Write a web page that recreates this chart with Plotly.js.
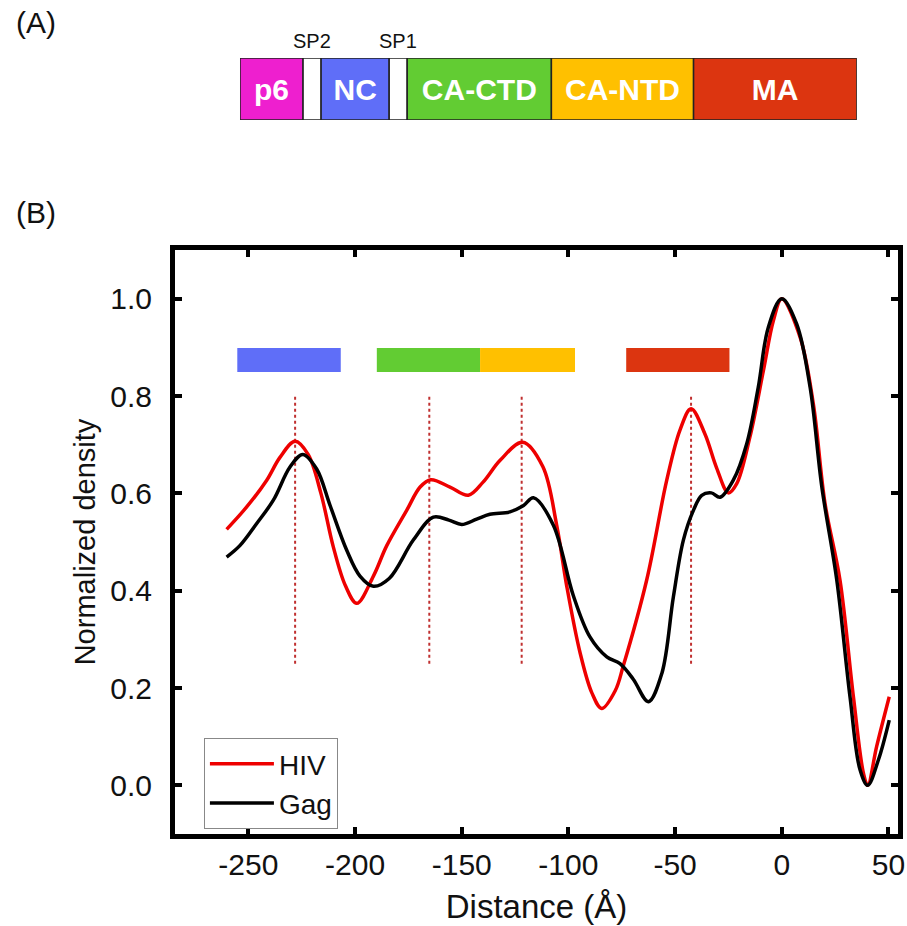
<!DOCTYPE html>
<html><head><meta charset="utf-8">
<script src="https://cdn.plot.ly/plotly-3.0.1.min.js"></script>
<style>html,body{margin:0;padding:0;background:#fff}#chart{width:907px;height:926px}</style>
</head><body><div id="chart"></div>
<script>
// Panel A: Gag domain schematic (schematic lengths)
const domainNames   = ['p6', 'SP2', 'NC', 'SP1', 'CA-CTD', 'CA-NTD', 'MA'];
const domainLabels  = ['p6', '', 'NC', '', 'CA-CTD', 'CA-NTD', 'MA'];
const domainLengths = [63, 18, 68, 18, 144, 142, 163];
const domainColors  = ['#ee1fcf', '#ffffff', '#5f6ef8', '#ffffff', '#62cc33', '#ffc000', '#dc3510'];

// Panel B: density profiles
const distanceHIV = [-260.2, -250.8, -241.4, -235.2, -228.1, -222, -216, -210.2, -204.5, -199.2,
  -191.4, -185.2, -175.8, -169.5, -164.5, -155.5, -146.9, -140, -132, -121.4,
  -112, -105.5, -100.8, -94.5, -89, -84.4, -78, -74.3, -63.3, -53.9, -47.7, -42.5,
  -36, -30.5, -25.0, -21.1, -14.9, -8.6, -3.9, 0, 8.6, 14.8,
  20.3, 27.3, 33.6, 38.3, 40.3, 44.5, 50.4];
const densityHIV = [0.526, 0.572, 0.627, 0.674, 0.707, 0.680, 0.600, 0.490, 0.410, 0.374,
  0.430, 0.492, 0.565, 0.613, 0.628, 0.613, 0.596, 0.623, 0.668, 0.705,
  0.655, 0.535, 0.410, 0.272, 0.190, 0.158, 0.195, 0.245, 0.422, 0.627, 0.730, 0.774,
  0.722, 0.652, 0.601, 0.620, 0.716, 0.852, 0.955, 1.0, 0.921, 0.784,
  0.579, 0.422, 0.182, 0.025, 0.0, 0.080, 0.182];

const distanceGag = [-260.2, -253.9, -246.1, -238.3, -230.5, -224.5, -218, -211.7, -203.9, -197.7,
  -191.4, -184, -172.7, -163.3, -156, -150, -143, -136.8, -127.4, -121,
  -116.4, -107.1, -97.7, -89.9, -82, -75.8, -69.6, -62.5, -56.2, -50.8,
  -46.1, -41.4, -37.5, -33, -28.9, -22.7, -16.4, -11, -6.3, 0,
  7, 13.3, 18.8, 25.8, 32, 36.7, 40.3, 45.3, 50.4];
const densityGag = [0.469, 0.493, 0.538, 0.586, 0.654, 0.680, 0.650, 0.575, 0.483, 0.430,
  0.409, 0.425, 0.504, 0.551, 0.545, 0.536, 0.547, 0.557, 0.562, 0.575,
  0.591, 0.535, 0.390, 0.305, 0.264, 0.250, 0.218, 0.172, 0.230, 0.387,
  0.504, 0.565, 0.596, 0.601, 0.592, 0.627, 0.702, 0.818, 0.941, 1.0,
  0.948, 0.818, 0.613, 0.422, 0.182, 0.032, 0.0, 0.052, 0.134];

// Domain region bars in panel B
const regionStart = [-255.2, -189.8, -141.4, -72.9];
const regionEnd   = [-206.7, -141.4, -96.9, -24.5];
const regionColor = ['#5f6ef8', '#62cc33', '#ffc000', '#dc3510'];
const regionLevel = 0.874;

// Dotted peak markers
const peakPositions = [-228.1, -165.2, -121.9, -42.5];
const peakLineRange = [0.25, 0.80];

const xTicks = [-250, -200, -150, -100, -50, 0, 50];
const yTicks = [0.0, 0.2, 0.4, 0.6, 0.8, 1.0];

const FONT = 'Liberation Sans, Arial, Helvetica, sans-serif';

// cumulative bases for schematic
const domainBase = [];
let acc = 0;
for (const L of domainLengths) { domainBase.push(acc); acc += L; }
const domainTotal = acc;

const traces = [];

traces.push({
  type: 'bar', orientation: 'h',
  x: domainLengths, base: domainBase, y: domainNames.map(() => 0), width: 1,
  xaxis: 'x2', yaxis: 'y2',
  marker: {color: domainColors, line: {color: '#222', width: 1.5}},
  text: domainLabels, textposition: 'inside', insidetextanchor: 'middle',
  constraintext: 'none', cliponaxis: false,
  textfont: {color: '#ffffff', size: 30, family: FONT, weight: 'bold'},
  hoverinfo: 'skip', showlegend: false
});

for (let i = 0; i < regionStart.length; i++) {
  traces.push({
    type: 'scatter', mode: 'lines',
    x: [regionStart[i], regionEnd[i]], y: [regionLevel, regionLevel],
    line: {color: regionColor[i], width: 24},
    hoverinfo: 'skip', showlegend: false
  });
}

const px = [], py = [];
for (const p of peakPositions) { px.push(p, p, null); py.push(peakLineRange[0], peakLineRange[1], null); }
traces.push({
  type: 'scatter', mode: 'lines', x: px, y: py, connectgaps: false,
  line: {color: '#c03030', width: 2, dash: 'dot'},
  hoverinfo: 'skip', showlegend: false
});

traces.push({
  type: 'scatter', mode: 'lines', name: 'HIV',
  x: distanceHIV, y: densityHIV,
  line: {color: '#ee0000', width: 3.5, shape: 'spline', smoothing: 1}
});
traces.push({
  type: 'scatter', mode: 'lines', name: 'Gag',
  x: distanceGag, y: densityGag,
  line: {color: '#000000', width: 3.5, shape: 'spline', smoothing: 1}
});

const axisCommon = {
  showline: true, linewidth: 5, linecolor: '#000', mirror: 'allticks',
  ticks: 'inside', ticklen: 7, tickwidth: 4, tickcolor: '#000',
  showgrid: false, zeroline: false,
  tickfont: {family: FONT, size: 30, color: '#111'}
};

const layout = {
  width: 907, height: 926,
  margin: {l: 175, r: 9, t: 20, b: 92},
  paper_bgcolor: '#fff', plot_bgcolor: '#fff',
  font: {family: FONT, color: '#111'},
  showlegend: true,
  legend: {
    x: 0.04, y: 0.118, xanchor: 'left', yanchor: 'top',
    bgcolor: '#fff', bordercolor: '#888', borderwidth: 1,
    font: {family: FONT, size: 28, color: '#111'},
    itemwidth: 64, tracegroupgap: 0
  },
  xaxis: Object.assign({}, axisCommon, {
    domain: [0, 1], range: [-284.4, 54.5], anchor: 'y',
    tickvals: xTicks, ticktext: xTicks.map(String),
    title: {text: 'Distance (Å)', font: {family: FONT, size: 33, color: '#111'}, standoff: 16}
  }),
  yaxis: Object.assign({}, axisCommon, {
    domain: [0, 0.7174], range: [-0.1, 1.1], anchor: 'x',
    tickvals: yTicks, ticktext: yTicks.map(v => v.toFixed(1)),
    ticklabelstandoff: 12,
    title: {text: 'Normalized density', font: {family: FONT, size: 29, color: '#111'}, standoff: 8}
  }),
  xaxis2: {domain: [0.0899, 0.943], range: [0, domainTotal], anchor: 'y2', visible: false, fixedrange: true},
  yaxis2: {domain: [0.8771, 0.9533], range: [-0.5, 0.5], anchor: 'x2', visible: false, fixedrange: true},
  annotations: [
    {text: '(A)', xref: 'paper', yref: 'paper', x: -0.192, y: 0.9975, xanchor: 'center', yanchor: 'middle',
     showarrow: false, font: {family: FONT, size: 30, color: '#111'}},
    {text: '(B)', xref: 'paper', yref: 'paper', x: -0.192, y: 0.763, xanchor: 'center', yanchor: 'middle',
     showarrow: false, font: {family: FONT, size: 30, color: '#111'}},
    {text: 'SP2', xref: 'x2', yref: 'y2', x: domainBase[1] + domainLengths[1] / 2, y: 0.5,
     xanchor: 'center', yanchor: 'bottom', yshift: 4, showarrow: false,
     font: {family: FONT, size: 20, color: '#111'}},
    {text: 'SP1', xref: 'x2', yref: 'y2', x: domainBase[3] + domainLengths[3] / 2, y: 0.5,
     xanchor: 'center', yanchor: 'bottom', yshift: 4, showarrow: false,
     font: {family: FONT, size: 20, color: '#111'}}
  ]
};

Plotly.newPlot('chart', traces, layout, {staticPlot: true, displayModeBar: false});
</script>
</body></html>
